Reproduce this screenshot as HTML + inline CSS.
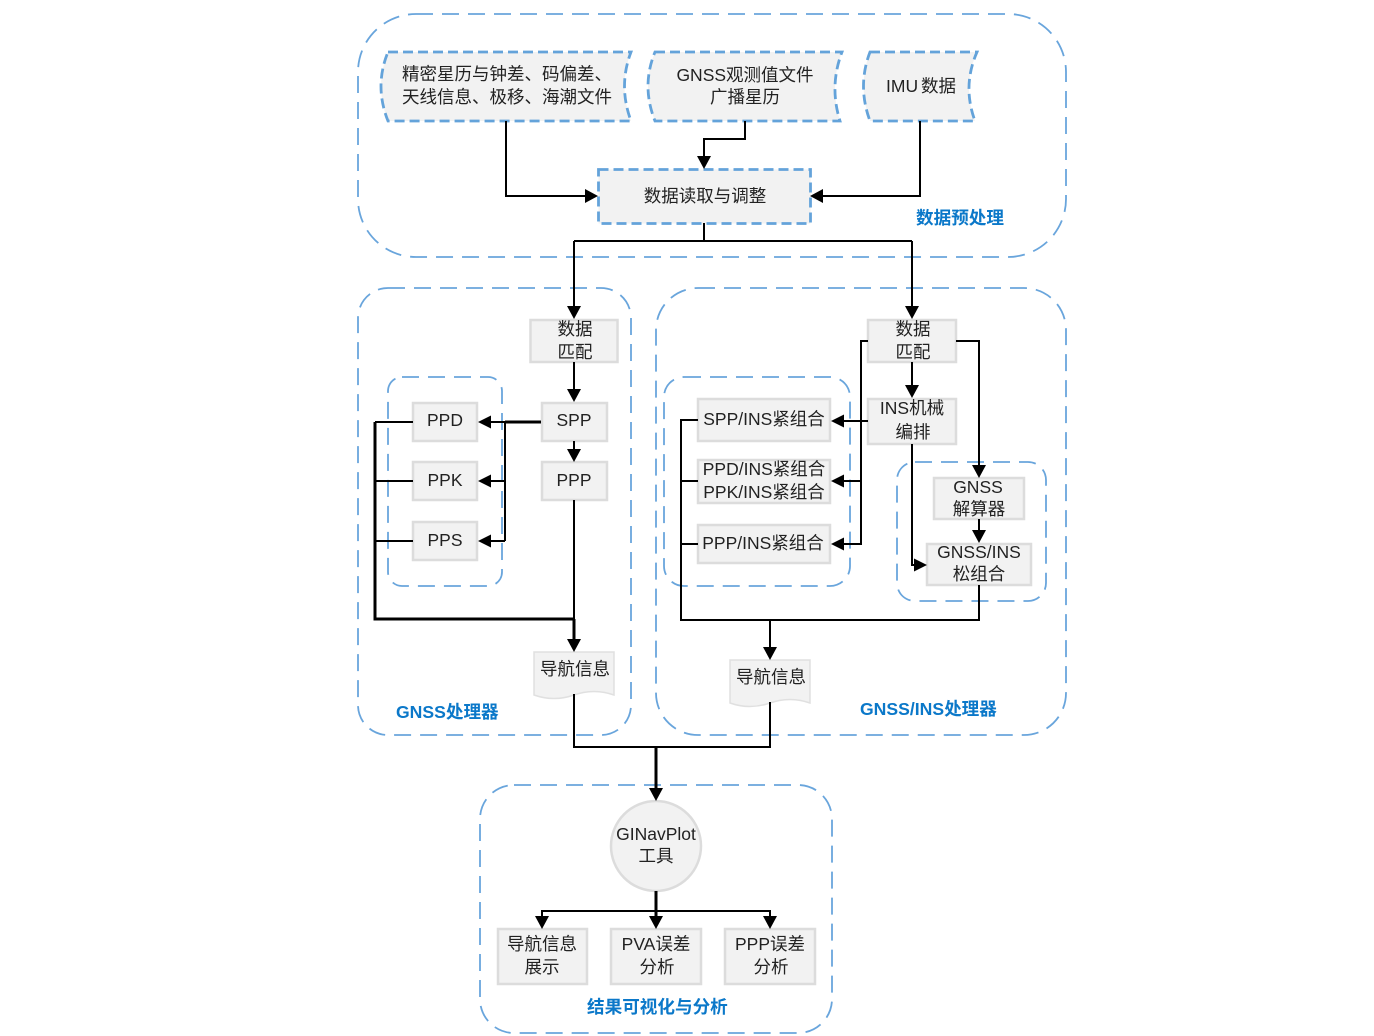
<!DOCTYPE html>
<html><head><meta charset="utf-8"><style>
html,body{margin:0;padding:0;background:#fff}
svg{display:block;filter:blur(0.35px)}
text{font-family:"Liberation Sans","Noto Sans CJK SC",sans-serif;font-size:17.500px;fill:#222;text-anchor:middle}
.t{font-weight:700;fill:#0b78c9;font-size:17.600px;text-anchor:start}
.g{fill:none;stroke:#69a5dc;stroke-width:1.8;stroke-dasharray:17 9}
.d{fill:#f2f2f2;stroke:#64a3da;stroke-width:2.8;stroke-dasharray:10 5}
.b{fill:#f2f2f2;stroke:#dcdcdc;stroke-width:2.5}
.l{fill:none;stroke:#000;stroke-width:2}
.k{fill:none;stroke:#000;stroke-width:3}
polygon{fill:#000}
</style></head><body>
<svg width="1374" height="1036" viewBox="0 0 1374 1036" xmlns="http://www.w3.org/2000/svg">
<rect width="1374" height="1036" fill="#fff"/>
<rect class="g" x="358" y="14" width="708" height="243" rx="58"/>
<rect class="g" x="358" y="288" width="273" height="447" rx="30"/>
<rect class="g" x="656" y="288" width="410" height="447" rx="42"/>
<rect class="g" x="388" y="377" width="114" height="209" rx="14"/>
<rect class="g" x="664" y="377" width="186" height="209" rx="20"/>
<rect class="g" x="897" y="462" width="149" height="139" rx="18"/>
<rect class="g" x="480" y="785" width="352" height="248" rx="34"/>

<path class="d" d="M388 52H631Q618 86 631 121H388Q374 86 388 52Z"/>
<path class="d" d="M655 52H842Q829 86 840 121H655Q641 86 655 52Z"/>
<path class="d" d="M870 52H977Q962 86 975 121H870Q857 86 870 52Z"/>
<rect class="d" x="598.500" y="169.500" width="212" height="54"/>

<rect class="b" x="530.500" y="320" width="87" height="42"/>
<rect class="b" x="542" y="403" width="65" height="38"/>
<rect class="b" x="542" y="462" width="65" height="38"/>
<rect class="b" x="413" y="403" width="64" height="38"/>
<rect class="b" x="413" y="462" width="64" height="38"/>
<rect class="b" x="413" y="522" width="64" height="38"/>
<rect class="b" x="868" y="320" width="88" height="42"/>
<rect class="b" x="868" y="399" width="88" height="45"/>
<rect class="b" x="698" y="399" width="132" height="42"/>
<rect class="b" x="698" y="460" width="132" height="43"/>
<rect class="b" x="698" y="525" width="132" height="38"/>
<rect class="b" x="934" y="478" width="90" height="41"/>
<rect class="b" x="927" y="544" width="104" height="41"/>
<rect class="b" x="498" y="929" width="89" height="55"/>
<rect class="b" x="611" y="929" width="90" height="55"/>
<rect class="b" x="725" y="929" width="90" height="55"/>
<circle class="b" cx="656" cy="846" r="45"/>
<path d="M534 652H614V695Q594 688 574 695T534 695Z" fill="#f2f2f2" stroke="#e0e0e0" stroke-width="1.500"/>
<path d="M730 660H810V703Q790 696 770 703T730 703Z" fill="#f2f2f2" stroke="#e0e0e0" stroke-width="1.500"/>

<path class="l" d="M506 121V196H588M745 121V139H704V158M920 121V196H822"/>
<path class="l" d="M704 223V241M574 241H912M574 241V308M912 241V308"/>
<path class="l" d="M574 362V391M574 441V451M574 500V640"/>
<path class="k" d="M541 422H505"/>
<path class="l" d="M505 422H490M505 422V541M505 481H490M505 541H490"/>
<path class="l" d="M413 422H375M413 481H375M413 541H375"/>
<path class="k" d="M375 422V619H574"/>
<path class="k" d="M574 619V642"/>
<path class="l" d="M574 694V747H770V702"/>
<path class="k" d="M656 747V790"/>
<path class="l" d="M912 362V387M868 341H861V544H843M868 421H843M861 481H843"/>
<path class="l" d="M956 341H979V467M979 519V533M912 444V565H917"/>
<path class="l" d="M698 420H681V620H979V585M698 481H681M698 544H681M770 620V649"/>
<path class="k" d="M656 891V918"/>
<path class="l" d="M542 918V911H770V918"/>

<polygon points="598,196 585,189 585,203"/>
<polygon points="704,169 697,156 711,156"/>
<polygon points="810,196 823,189 823,203"/>
<polygon points="574,319 567,306 581,306"/>
<polygon points="912,319 905,306 919,306"/>
<polygon points="574,402 567,389 581,389"/>
<polygon points="574,462 567,449 581,449"/>
<polygon points="478,422 491,415.500 491,428.500"/>
<polygon points="478,481 491,474.500 491,487.500"/>
<polygon points="478,541 491,534.500 491,547.500"/>
<polygon points="574,652 567,639 581,639"/>
<polygon points="912,398 905,385 919,385"/>
<polygon points="831,421 844,414.500 844,427.500"/>
<polygon points="831,481 844,474.500 844,487.500"/>
<polygon points="831,544 844,537.500 844,550.500"/>
<polygon points="979,478 972,465 986,465"/>
<polygon points="979,543 972,530 986,530"/>
<polygon points="927,565 914,558.500 914,571.500"/>
<polygon points="770,660 763,647 777,647"/>
<polygon points="656,801 649,788 663,788"/>
<polygon points="542,929 535,916 549,916"/>
<polygon points="656,929 649,916 663,916"/>
<polygon points="770,929 763,916 777,916"/>

<text x="507" y="80">精密星历与钟差、码偏差、</text>
<text x="507" y="103">天线信息、极移、海潮文件</text>
<text x="745" y="81">GNSS观测值文件</text>
<text x="745" y="103">广播星历</text>
<text x="921" y="92" word-spacing="-2">IMU 数据</text>
<text x="705" y="202">数据读取与调整</text>
<text x="575" y="335">数据</text>
<text x="575" y="358">匹配</text>
<text x="574" y="426">SPP</text>
<text x="574" y="486">PPP</text>
<text x="445" y="426">PPD</text>
<text x="445" y="486">PPK</text>
<text x="445" y="546">PPS</text>
<text x="575" y="675">导航信息</text>
<text x="913" y="335">数据</text>
<text x="913" y="358">匹配</text>
<text x="912" y="414">INS机械</text>
<text x="913" y="438">编排</text>
<text x="764" y="425">SPP/INS紧组合</text>
<text x="764" y="475">PPD/INS紧组合</text>
<text x="764" y="498">PPK/INS紧组合</text>
<text x="763" y="549">PPP/INS紧组合</text>
<text x="978" y="493">GNSS</text>
<text x="979" y="515">解算器</text>
<text x="979" y="558">GNSS/INS</text>
<text x="979" y="580">松组合</text>
<text x="771" y="683">导航信息</text>
<text x="656" y="840">GINavPlot</text>
<text x="656" y="862">工具</text>
<text x="542" y="950">导航信息</text>
<text x="542" y="973">展示</text>
<text x="656" y="950">PVA误差</text>
<text x="657" y="973">分析</text>
<text x="770" y="950">PPP误差</text>
<text x="771" y="973">分析</text>
<text class="t" x="916" y="224">数据预处理</text>
<text class="t" x="396" y="718">GNSS处理器</text>
<text class="t" x="860" y="715">GNSS/INS处理器</text>
<text class="t" x="587" y="1013">结果可视化与分析</text>
</svg>
</body></html>
